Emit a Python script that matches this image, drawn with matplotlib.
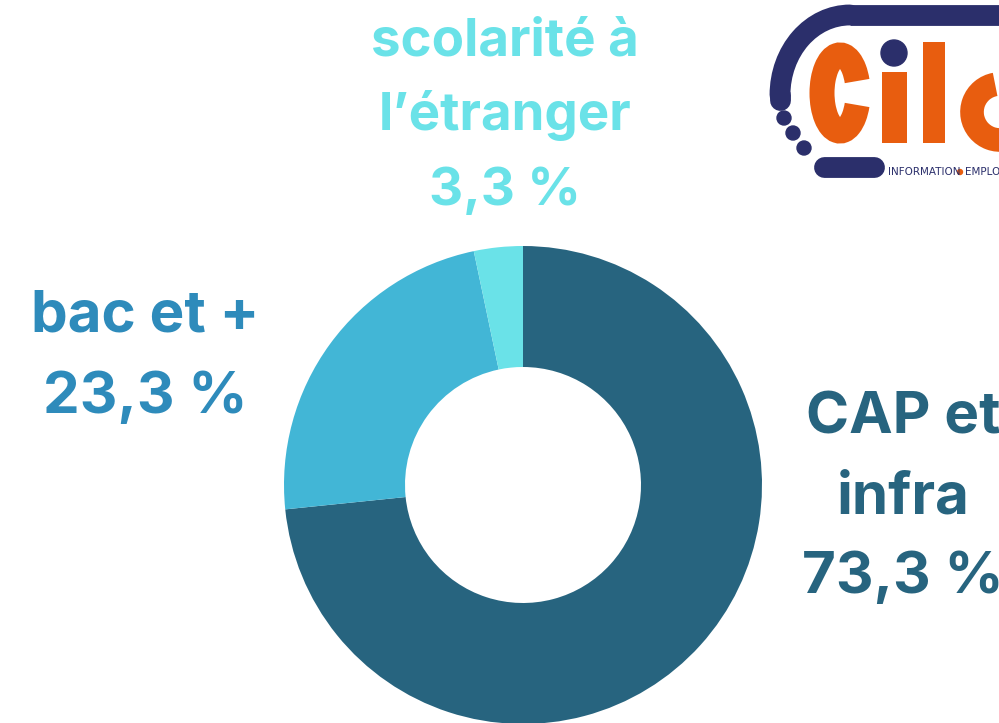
"""
Donut chart: niveau de formation (CAP et infra / bac et + / scolarité à l'étranger)
with the Cile logo in the top right corner.
"""
import matplotlib
matplotlib.use("Agg")
import matplotlib.pyplot as plt
from matplotlib.patches import Arc, Circle, Rectangle

categories = ["CAP et\ninfra", "bac et +", "scolarité à\nl’étranger"]
values = [73.3, 23.3, 3.3]
slice_colors = ["#27647F", "#42B6D6", "#6AE2E8"]
label_colors = ["#27647F", "#2E8BBB", "#6AE2E8"]

W, H = 999, 723
navy = "#2B2F6B"
orange = "#E85D0F"


def Y(y):
    # pixel row (from top) -> data y (from bottom)
    return H - y


fig = plt.figure(figsize=(W / 100, H / 100), dpi=100)
ax = fig.add_axes([0, 0, 1, 1])

ax.pie(
    values,
    colors=slice_colors,
    startangle=90,
    counterclock=False,
    center=(523, Y(485)),
    radius=239,
    wedgeprops=dict(width=121, linewidth=0),
)

# labels: (x centre, first baseline, line step, font size)
label_pos = [(903, 433, 80, 42), (145, 332, 81, 42), (505, 55, 75, 38)]
for text, val, col, (x, y0, step, fs) in zip(categories, values, label_colors, label_pos):
    lines = text.split("\n") + [f"{val:.1f} %".replace(".", ",")]
    for i, line in enumerate(lines):
        ax.text(x, Y(y0 + i * step), line, ha="center", va="baseline",
                fontsize=fs, fontweight="bold", family="Inter", color=col)

# --- logo (rough) ---
ax.add_patch(Arc((850, Y(95)), 140, 160, theta1=90, theta2=180, lw=15, color=navy,
                 capstyle="round"))
ax.plot([850, 1010], [Y(15), Y(15)], color=navy, lw=15, solid_capstyle="butt")
ax.plot([780, 780], [Y(95), Y(100)], color=navy, lw=15, solid_capstyle="round")
for cx, cy in [(784, 118), (793, 133), (804, 148)]:
    ax.add_patch(Circle((cx, Y(cy)), 7, color=navy))
ax.plot([824, 874], [Y(167), Y(167)], color=navy, lw=15, solid_capstyle="round")

# C
ax.add_patch(Arc((840, Y(93)), 36, 76, theta1=35, theta2=325, lw=18, color=orange))
# i
ax.add_patch(Rectangle((882, Y(143)), 25, 71, color=orange, lw=0))
ax.add_patch(Circle((894, Y(53)), 13, color=navy))
# l
ax.add_patch(Rectangle((923, Y(143)), 22, 101, color=orange, lw=0))
# e
ax.add_patch(Arc((1000, Y(112)), 56, 56, theta1=100, theta2=340, lw=17, color=orange))
ax.text(888, Y(172), "INFORMATION", fontsize=7.5, color=navy, va="center",
        family="Liberation Sans Narrow")
ax.add_patch(Circle((960, Y(172)), 2.5, color=orange))
ax.text(965, Y(172), "EMPLOI", fontsize=7.5, color=navy, va="center",
        family="Liberation Sans Narrow")

ax.set_xlim(0, W)
ax.set_ylim(0, H)
ax.set_aspect("equal")
ax.axis("off")

plt.savefig("out.png", dpi=100, facecolor="white")
